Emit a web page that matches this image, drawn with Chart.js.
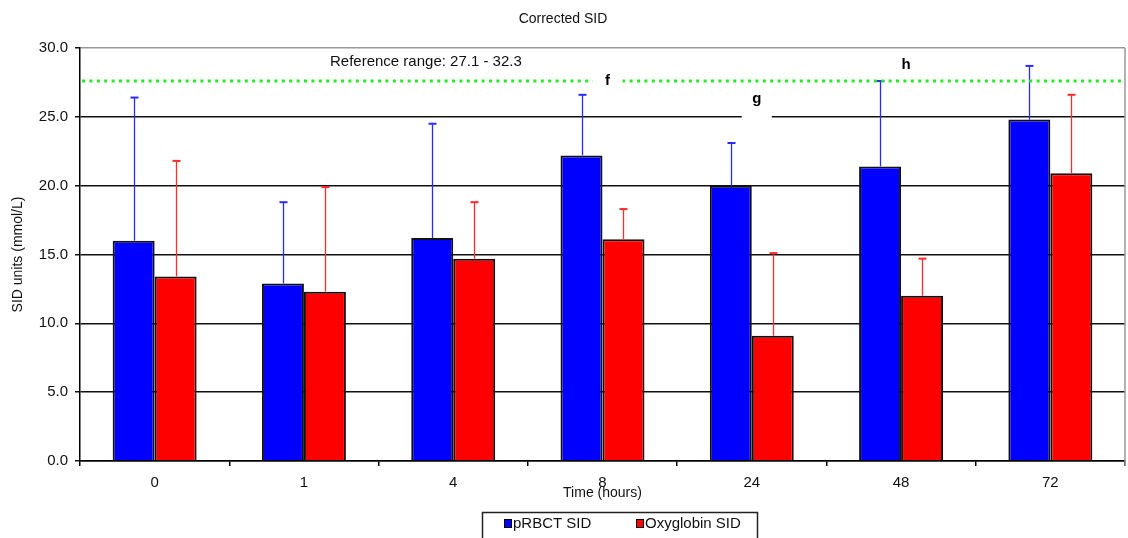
<!DOCTYPE html>
<html>
<head>
<meta charset="utf-8">
<script src="https://cdn.jsdelivr.net/npm/chart.js@4.4.1/dist/chart.umd.min.js"></script>
<style>
  html, body { margin: 0; padding: 0; background: #fff; }
  #wrap { width: 1128px; height: 538px; position: relative; }
</style>
</head>
<body>
<div id="wrap"><canvas id="chart" width="1128" height="538"></canvas></div>
<script>
// Sampling times and corrected SID (mean, upper SD) per group
const timeLabels = ['0', '1', '4', '8', '24', '48', '72'];
const prbctMean = [16.0, 12.9, 16.2, 22.2, 20.0, 21.4, 24.8];
const prbctSD   = [10.4, 5.9, 8.3, 4.4, 3.1, 6.2, 3.9];
const oxyMean   = [13.4, 12.3, 14.7, 16.1, 9.1, 12.0, 20.9];
const oxySD     = [8.4, 7.6, 4.1, 2.2, 6.0, 2.7, 5.7];
const yTicks    = [0, 5, 10, 15, 20, 25, 30];

// Lower bound of the reference range and its caption
const referenceValue = 27.6;
const referenceText = 'Reference range: 27.1 - 32.3';

// Significance letters: category and height on the SID axis
const sigLetters  = ['f', 'g', 'h'];
const sigCategory = ['8', '24', '48'];
const sigValue    = [27.6, 26.3, 28.8];

const FONT = '"Liberation Sans", Arial, sans-serif';
// white label backgrounds: padding above / below the glyph
const LABEL_PAD = { f: [4, 4], g: [4, 13], h: [4, 4] };

const extras = {
  id: 'extras',
  afterDatasetsDraw(chart) {
    const { ctx, chartArea: a, scales: { x, y } } = chart;
    ctx.save();

    // upward error bars
    const sds = [prbctSD, oxySD];
    const means = [prbctMean, oxyMean];
    const cols = ['#2a2aff', '#ff2a2a'];
    [0, 1].forEach(d => {
      const meta = chart.getDatasetMeta(d);
      meta.data.forEach((bar, i) => {
        const top = y.getPixelForValue(means[d][i] + sds[d][i]);
        const cx = Math.round(bar.x) + 0.5;
        ctx.strokeStyle = cols[d];
        ctx.lineWidth = 1.3;
        ctx.beginPath();
        ctx.moveTo(cx, bar.y);
        ctx.lineTo(cx, top);
        ctx.stroke();
        ctx.lineWidth = 2;
        ctx.beginPath();
        ctx.moveTo(cx - 4, top);
        ctx.lineTo(cx + 4, top);
        ctx.stroke();
      });
    });

    // reference range line
    const ry = y.getPixelForValue(referenceValue);
    ctx.strokeStyle = '#22ee22';
    ctx.lineWidth = 3;
    ctx.setLineDash([3, 4.4]);
    ctx.beginPath();
    ctx.moveTo(a.left + 2, ry);
    ctx.lineTo(a.right, ry);
    ctx.stroke();
    ctx.setLineDash([]);

    // caption of the reference range
    ctx.fillStyle = '#111';
    ctx.font = '15px ' + FONT;
    ctx.textAlign = 'left';
    ctx.textBaseline = 'middle';
    ctx.fillText(referenceText, a.left + 250, y.getPixelForValue(29.0));

    // significance letters on white backgrounds
    ctx.font = 'bold 15px ' + FONT;
    ctx.textAlign = 'center';
    sigLetters.forEach((t, i) => {
      const idx = timeLabels.indexOf(sigCategory[i]);
      const lx = x.getPixelForValue(idx) + 5;
      const ly = y.getPixelForValue(sigValue[i]);
      const m = ctx.measureText(t);
      const pad = LABEL_PAD[t] || [4, 4];
      const top = ly - m.actualBoundingBoxAscent - pad[0];
      const bottom = ly + m.actualBoundingBoxDescent + pad[1];
      ctx.fillStyle = '#fff';
      ctx.fillRect(lx - 15, top, 30, bottom - top);
      ctx.fillStyle = '#000';
      ctx.fillText(t, lx, ly);
    });

    // plot frame, right side
    ctx.strokeStyle = '#999';
    ctx.lineWidth = 1.5;
    ctx.beginPath();
    ctx.moveTo(a.right, a.top);
    ctx.lineTo(a.right, a.bottom + 5);
    ctx.stroke();
    ctx.restore();
  },
  afterDraw(chart) {
    const { ctx, chartArea: a } = chart;
    ctx.save();
    ctx.fillStyle = '#111';
    ctx.font = '14px ' + FONT;
    ctx.textAlign = 'center';
    ctx.textBaseline = 'middle';
    ctx.fillText('Corrected SID', 563, 19);

    ctx.font = '14px ' + FONT;
    ctx.fillText('Time (hours)', (a.left + a.right) / 2, 493);

    ctx.save();
    ctx.translate(18, (a.top + a.bottom) / 2);
    ctx.rotate(-Math.PI / 2);
    ctx.fillText('SID units (mmol/L)', 0, 0);
    ctx.restore();

    // legend box
    ctx.strokeStyle = '#222';
    ctx.lineWidth = 1.5;
    ctx.strokeRect(482.5, 512.5, 275, 40);
    const items = chart.data.datasets;
    const xs = [504, 636];
    ctx.textAlign = 'left';
    ctx.font = '15px ' + FONT;
    items.forEach((ds, i) => {
      ctx.fillStyle = ds.backgroundColor;
      ctx.fillRect(xs[i], 519, 7, 8);
      ctx.strokeStyle = '#000';
      ctx.lineWidth = 1;
      ctx.strokeRect(xs[i] + 0.5, 519.5, 7, 8);
      ctx.fillStyle = '#111';
      ctx.fillText(ds.label, xs[i] + 9, 524);
    });
    ctx.restore();
  }
};

new Chart(document.getElementById('chart'), {
  type: 'bar',
  data: {
    labels: timeLabels,
    datasets: [
      { label: 'pRBCT SID', data: prbctMean, backgroundColor: '#0000ff', borderColor: '#111', borderWidth: 2, borderSkipped: 'bottom' },
      { label: 'Oxyglobin SID', data: oxyMean, backgroundColor: '#ff0000', borderColor: '#111', borderWidth: 2, borderSkipped: 'bottom' }
    ]
  },
  options: {
    responsive: false,
    animation: false,
    devicePixelRatio: 1,
    layout: { padding: { top: 48, right: 3, left: 0, bottom: 0 } },
    datasets: { bar: { categoryPercentage: 0.5625, barPercentage: 1.0 } },
    plugins: { legend: { display: false }, tooltip: { enabled: false }, title: { display: false } },
    scales: {
      x: {
        afterFit(s) { s.height = 77; },
        grid: { offset: true, drawOnChartArea: false, drawTicks: true, tickLength: 5, color: '#000', lineWidth: 1.5 },
        border: { display: true, color: '#000', width: 1.5 },
        ticks: { color: '#111', font: { family: FONT, size: 15 }, padding: 8, maxRotation: 0 }
      },
      y: {
        min: 0, max: 30,
        afterFit(s) { s.width = 80; },
        afterBuildTicks(s) { s.ticks = yTicks.map(v => ({ value: v })); },
        grid: {
          color: c => (c.tick && c.tick.value === 30 ? '#999' : '#111'),
          tickColor: '#111',
          lineWidth: 1.5,
          tickLength: 5
        },
        border: { display: true, color: '#000', width: 1.5 },
        ticks: { color: '#111', font: { family: FONT, size: 15 }, padding: 7, callback: v => Number(v).toFixed(1) }
      }
    }
  },
  plugins: [extras]
});
</script>
</body>
</html>
